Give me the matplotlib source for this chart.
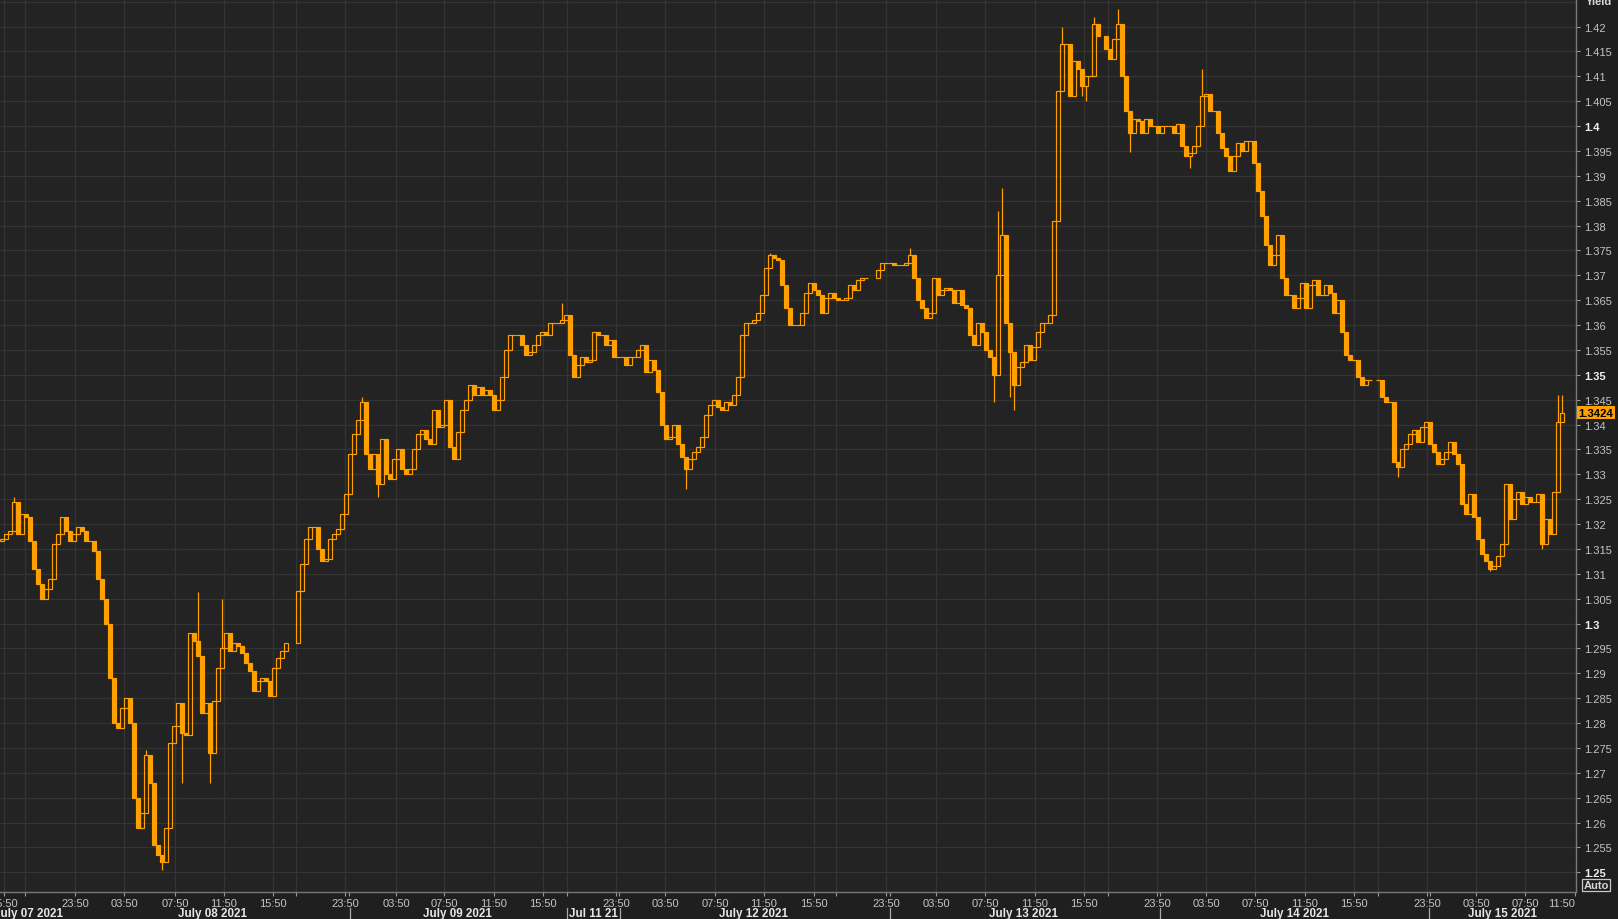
import numpy as np
import matplotlib.pyplot as plt
from matplotlib.transforms import blended_transform_factory

plt.rcParams['font.family'] = ['Liberation Sans', 'DejaVu Sans']

# closes per candle slot (nan = no trading)
closes = [
    1.317, 1.318, 1.3185, 1.3245, 1.318, 1.322, 1.3215, 1.3165, 1.311, 1.308,
    1.305, 1.307, 1.309, 1.316, 1.318, 1.3215, 1.3185, 1.3165, 1.318, 1.3195,
    1.3185, 1.3165, 1.3165, 1.3145, 1.309, 1.305, 1.300, 1.289, 1.280, 1.279,
    1.283, 1.285, 1.280, 1.265, 1.259, 1.262, 1.2735, 1.268, 1.2555, 1.2535,
    1.252, 1.259, 1.276, 1.2795, 1.284, 1.278, 1.2775, 1.298, 1.2965, 1.2935,
    1.282, 1.284, 1.274, 1.2845, 1.291, 1.295, 1.298, 1.2945, 1.296, 1.2955,
    1.294, 1.292, 1.2905, 1.2865, 1.2885, 1.289, 1.2885, 1.2855, 1.291, 1.293,
    1.2945, 1.296, np.nan, np.nan, 1.3065, 1.312, 1.317, 1.3195, 1.3195, 1.315,
    1.3125, 1.313, 1.317, 1.318, 1.319, 1.322, 1.326, 1.334, 1.338, 1.341,
    1.3445, 1.334, 1.331, 1.334, 1.328, 1.337, 1.330, 1.329, 1.333, 1.335,
    1.331, 1.330, 1.331, 1.335, 1.338, 1.339, 1.337, 1.336, 1.343, 1.3395,
    1.340, 1.345, 1.3355, 1.333, 1.3385, 1.343, 1.345, 1.348, 1.346, 1.3475,
    1.346, 1.347, 1.346, 1.343, 1.345, 1.3495, 1.355, 1.358, 1.358, 1.358,
    1.356, 1.354, 1.3545, 1.356, 1.358, 1.3585, 1.358, 1.3605, 1.3605, 1.3605,
    1.361, 1.362, 1.354, 1.3495, 1.352, 1.3535, 1.3525, 1.353, 1.3585, 1.358,
    1.358, 1.356, 1.357, 1.3535, 1.3535, 1.3535, 1.352, 1.3535, 1.3535, 1.355,
    1.356, 1.3505, 1.353, 1.351, 1.3465, 1.340, 1.337, 1.3375, 1.340, 1.336,
    1.3335, 1.331, 1.333, 1.3345, 1.3355, 1.3375, 1.342, 1.344, 1.345, 1.3435,
    1.343, 1.3445, 1.344, 1.346, 1.3495, 1.358, 1.3605, 1.3605, 1.361, 1.3625,
    1.366, 1.3715, 1.374, 1.3735, 1.373, 1.368, 1.3635, 1.360, 1.360, 1.360,
    1.3625, 1.3665, 1.3685, 1.367, 1.366, 1.3625, 1.3655, 1.3665, 1.3655, 1.365,
    1.365, 1.3655, 1.368, 1.367, 1.369, 1.3695, 1.3695, np.nan, np.nan, 1.371,
    1.3725, 1.3725, 1.3725, 1.372, 1.372, 1.372, 1.3725, 1.374, 1.3695, 1.365,
    1.3635, 1.3615, 1.3625, 1.3695, 1.366, 1.367, 1.3675, 1.367, 1.3645, 1.367,
    1.364, 1.3635, 1.358, 1.356, 1.3605, 1.3585, 1.355, 1.3535, 1.350, 1.370,
    1.378, 1.3605, 1.3545, 1.348, 1.3515, 1.3525, 1.356, 1.353, 1.3555, 1.3585,
    1.3605, 1.3605, 1.362, 1.381, 1.407, 1.4165, 1.4165, 1.406, 1.413, 1.4115,
    1.408, 1.410, 1.410, 1.4205, 1.418, np.nan, 1.4155, 1.4135, 1.4175, 1.4205,
    1.410, 1.403, 1.3985, 1.4015, 1.401, 1.3985, 1.4015, 1.400, 1.400, 1.3985,
    1.400, 1.400, 1.400, 1.3985, 1.4005, 1.396, 1.394, 1.3945, 1.396, 1.400,
    1.406, 1.4065, 1.403, 1.403, 1.3985, 1.3955, 1.394, 1.391, 1.394, 1.3965,
    1.395, 1.397, 1.397, 1.3925, 1.387, 1.382, 1.376, 1.372, 1.374, 1.378,
    1.3695, 1.366, 1.366, 1.3635, 1.3655, 1.3685, 1.3635, 1.368, 1.369, 1.366,
    1.366, 1.368, 1.3665, 1.3625, 1.365, 1.3585, 1.354, 1.353, 1.353, 1.3495,
    1.348, 1.349, 1.349, np.nan, 1.349, 1.3455, 1.3445, 1.3445, 1.3325, 1.3315,
    1.335, 1.336, 1.338, 1.339, 1.3365, 1.3395, 1.3405, 1.336, 1.3345, 1.332,
    1.333, 1.3345, 1.3365, 1.334, 1.332, 1.324, 1.322, 1.326, 1.3215, 1.317,
    1.314, 1.3125, 1.311, 1.3115, 1.3135, 1.316, 1.328, 1.321, 1.325, 1.3265,
    1.324, 1.3255, 1.3245, 1.3245, 1.326, 1.316, 1.321, 1.318, 1.3265, 1.3405,
    1.3424,
]
first_open = 1.3165

# wick extremes that stick out past the body
wick_hi = {3: 1.3255, 36: 1.2745, 49: 1.3064, 55: 1.305, 90: 1.3455,
           140: 1.3645, 192: 1.3745, 227: 1.3755, 249: 1.383, 250: 1.3875,
           265: 1.420, 273: 1.422, 279: 1.4235, 300: 1.4115, 389: 1.346,
           390: 1.346}
wick_lo = {40: 1.2505, 45: 1.268, 52: 1.268, 94: 1.3255, 171: 1.327,
           248: 1.3445, 252: 1.3455, 253: 1.343, 270: 1.406, 271: 1.405,
           282: 1.3947, 297: 1.3915, 349: 1.3295, 372: 1.3105, 385: 1.315}

# time axis (in candle slots)
time_ticks = [0.5, 18.25, 30.5, 43.25, 55.5, 67.75, 85.75, 98.5, 110.5, 123,
              135.25, 153.5, 165.75, 178.25, 190.5, 203, 221, 233.5, 245.75,
              258.25, 270.5, 288.75, 301, 313.25, 325.75, 338, 356.25, 368.5,
              380.75, 393.25]
time_labels = ['15:50', '23:50', '03:50', '07:50', '11:50', '15:50',
               '23:50', '03:50', '07:50', '11:50', '15:50',
               '23:50', '03:50', '07:50', '11:50', '15:50',
               '23:50', '03:50', '07:50', '11:50', '15:50',
               '23:50', '03:50', '07:50', '11:50', '15:50',
               '23:50', '03:50', '07:50', '11:50']
session_ticks = [5.75, 73.5, 141.25, 208.5, 276.5, 344]
day_ticks = [86.75, 154.25, 222, 289.5, 357]
day_breaks = [87, 141.25, 154.5, 222, 289.5, 356.75]
date_pos = [6.75, 52.75, 113.75, 147.75, 188, 255.5, 323.25, 375.25]
date_labels = ['July 07 2021', 'July 08 2021', 'July 09 2021', 'Jul 11 21',
               'July 12 2021', 'July 13 2021', 'July 14 2021', 'July 15 2021']
last_price = 1.3424

ORANGE = '#ffa000'
BG = '#222322'
GRID = '#333433'

fig = plt.figure(figsize=(16.18, 9.2), dpi=100, facecolor='#1f1f1f')
ax = fig.add_axes([0, 27 / 920, 1576 / 1618, 893 / 920])
ax.set_facecolor(BG)

c = np.array(closes, dtype=float)
x = np.arange(len(c))
o = np.full_like(c, np.nan)
prev = first_open
for i in range(len(c)):
    if np.isnan(c[i]):
        continue
    o[i] = prev
    prev = c[i]

ok = ~np.isnan(c)
up = ok & (c >= o)
dn = ok & (c < o)
top = np.maximum(o, c)
bot = np.minimum(o, c)
hi = top.copy()
lo = bot.copy()
for k, v in wick_hi.items():
    hi[k] = v
for k, v in wick_lo.items():
    lo[k] = v

# grid
levels = np.round(np.arange(1.25, 1.4251, 0.005), 3)
for v in levels:
    ax.axhline(v, color=GRID, lw=0.9, zorder=0)
for t in time_ticks[:-1] + session_ticks:
    ax.axvline(t, color=GRID, lw=0.9, zorder=0)

# wicks
m_hi = ok & (hi > top)
m_lo = ok & (lo < bot)
ax.vlines(x[m_hi], top[m_hi], hi[m_hi], color=ORANGE, lw=0.9, zorder=2)
ax.vlines(x[m_lo], lo[m_lo], bot[m_lo], color=ORANGE, lw=0.9, zorder=2)
# bodies
ax.bar(x[up], (c - o)[up], bottom=o[up], width=0.9, facecolor='none',
       edgecolor=ORANGE, linewidth=0.85, zorder=3)
ax.bar(x[dn], (o - c)[dn], bottom=c[dn], width=0.9, facecolor=ORANGE,
       edgecolor=ORANGE, linewidth=0.85, zorder=3)

ax.set_xlim(-0.5, 393.5)
ax.set_ylim(1.24604, 1.42553)

for s in ['top', 'left']:
    ax.spines[s].set_visible(False)
for s in ['right', 'bottom']:
    ax.spines[s].set_color('#787878')
    ax.spines[s].set_linewidth(1.0)

# y axis
ax.yaxis.tick_right()
yt = levels[levels <= 1.42]
ax.set_yticks(yt)
ylabs = [f'{v:.3f}'.rstrip('0').rstrip('.') for v in yt]
ax.set_yticklabels(ylabs)
ax.tick_params(axis='y', direction='out', length=3, width=0.8,
               color='#9a9a9a', labelcolor='#c4c4c4', labelsize=8, pad=3)
for lab, v in zip(ax.get_yticklabels(), yt):
    if abs(v * 20 - round(v * 20)) < 1e-6:
        lab.set_fontweight('bold')
        lab.set_color('#f0f0f0')

# x axis
ax.set_xticks(time_ticks + session_ticks + day_ticks)
ax.set_xticklabels(time_labels + [''] * (len(session_ticks) + len(day_ticks)))
ax.tick_params(axis='x', direction='out', length=3, width=0.8,
               color='#9a9a9a', labelcolor='#c4c4c4', labelsize=8, pad=1.5)
ax.get_xticklabels()[len(time_ticks) - 1].set_horizontalalignment('right')

tr = blended_transform_factory(ax.transData, ax.transAxes)
for p, lab in zip(date_pos, date_labels):
    ax.text(p, -21.5 / 893, lab, transform=tr, ha='center', va='center',
            fontsize=8.4, fontweight='bold', color='#e6e6e6', clip_on=False)
for b in day_breaks:
    ax.plot([b, b], [-16 / 893, -28 / 893], transform=tr, color='#a8a8a8',
            lw=0.9, clip_on=False)

# last price marker
tr2 = blended_transform_factory(ax.transAxes, ax.transData)
ax.text(1.0015, last_price, f'{last_price:.4f}', transform=tr2, ha='left',
        va='center', fontsize=8.2, fontweight='bold', color='black',
        clip_on=False, zorder=10,
        bbox=dict(boxstyle='square,pad=0.15', facecolor=ORANGE,
                  edgecolor='none'))

fig.text(1586 / 1618, 1 - 2 / 920, 'Yield', ha='left', va='center',
         fontsize=8, fontweight='bold', color='#d8d8d8')
fig.text(1596 / 1618, (920 - 886) / 920, 'Auto', ha='center', va='center',
         fontsize=8, fontweight='bold', color='#d8d8d8',
         bbox=dict(boxstyle='square,pad=0.12', facecolor='none',
                   edgecolor='#c8c8c8', linewidth=0.9))

fig.savefig('out.png', dpi=100, facecolor=fig.get_facecolor())
